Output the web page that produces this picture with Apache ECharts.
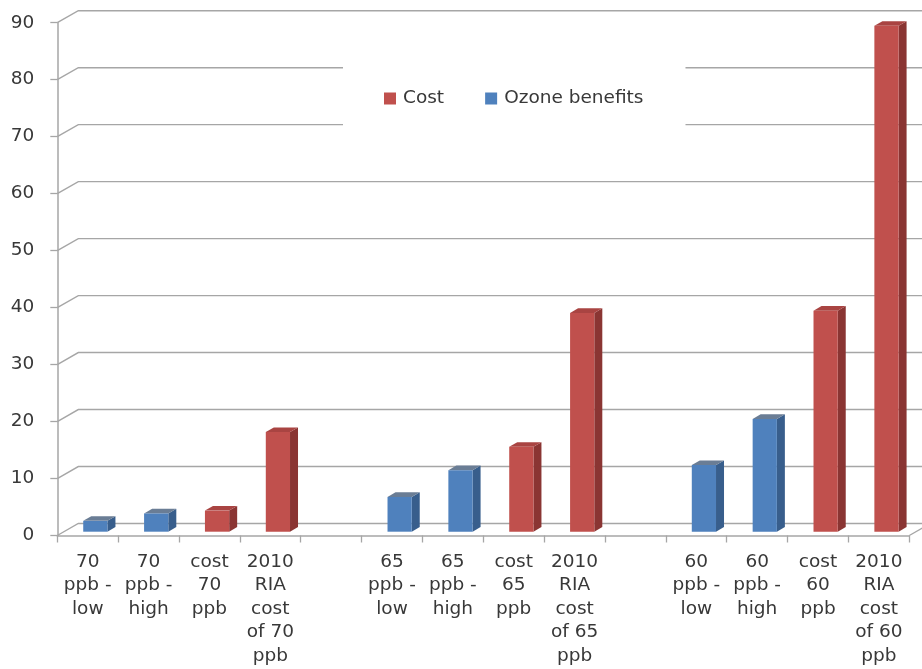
<!DOCTYPE html>
<html>
<head>
<meta charset="utf-8">
<script src="https://cdn.jsdelivr.net/npm/echarts@6/dist/echarts.min.js"></script>
<style>
  html, body { margin: 0; padding: 0; background: #fff; }
  #chart { width: 922px; height: 669px; }
</style>
</head>
<body>
<div id="chart"></div>
<script>
// Category labels (empty entries leave a gap between the three standards)
const categories = [
  '70\nppb -\nlow', '70\nppb -\nhigh', 'cost\n70\nppb', '2010\nRIA\ncost\nof 70\nppb',
  '',
  '65\nppb -\nlow', '65\nppb -\nhigh', 'cost\n65\nppb', '2010\nRIA\ncost\nof 65\nppb',
  '',
  '60\nppb -\nlow', '60\nppb -\nhigh', 'cost\n60\nppb', '2010\nRIA\ncost\nof 60\nppb'
];

// Values per category (null = no bar for that series)
const ozoneBenefits = [1.9, 3.2, null, null, null, 6.1, 10.8, null, null, null, 11.7, 19.8, null, null];
const cost          = [null, null, 3.7, 17.5, null, null, null, 14.9, 38.4, null, null, null, 38.8, 88.8];

// Value axis ticks
const yTicks = [0, 10, 20, 30, 40, 50, 60, 70, 80, 90];

const FONT = 'DejaVu Sans';
const FONT_SIZE = 18.5;
const TEXT = '#383838';
const LINE = '#a6a6a6';

// 3D look: depth of the back wall and of each bar
const WALL_DX = 21, WALL_DY = -12;
const BAR_DX = 8, BAR_DY = -4.6;
const BAR_LIFT = 3.8;

function toPairs(values) {
  const out = [];
  values.forEach((v, i) => { if (v != null) out.push([i, v]); });
  return out;
}

function barRenderer(front, side, top) {
  return function (params, api) {
    const idx = api.value(0);
    const val = api.value(1);
    const c = api.coord([idx, 0]);
    const catW = api.size([1, 0])[0];
    const h = api.size([0, val])[1];
    const w = catW * 0.398;
    const x = c[0] - catW * 0.074;
    const base = c[1] - BAR_LIFT;
    const yTop = base - h;
    return {
      type: 'group',
      children: [
        {
          type: 'polygon',
          shape: { points: [[x + w, base], [x + w + BAR_DX, base + BAR_DY], [x + w + BAR_DX, yTop + BAR_DY], [x + w, yTop]] },
          style: { fill: side }
        },
        {
          type: 'polygon',
          shape: { points: [[x, yTop], [x + BAR_DX, yTop + BAR_DY], [x + w + BAR_DX, yTop + BAR_DY], [x + w, yTop]] },
          style: { fill: top }
        },
        {
          type: 'rect',
          shape: { x: x, y: yTop, width: w, height: h },
          style: { fill: front }
        }
      ]
    };
  };
}

const chart = echarts.init(document.getElementById('chart'), null, { renderer: 'canvas' });

chart.setOption({
  animation: false,
  backgroundColor: '#ffffff',
  grid: { left: 57.3, right: 12.7, top: 22.7, bottom: 133.5, containLabel: false },
  legend: {
    data: [
      { name: 'Cost', icon: 'rect' },
      { name: 'Ozone benefits', icon: 'rect' }
    ],
    left: 343,
    top: 60,
    padding: [29, 42, 25, 41],
    itemWidth: 12,
    itemHeight: 12,
    itemGap: 41,
    backgroundColor: '#ffffff',
    textStyle: { fontFamily: FONT, fontSize: FONT_SIZE, color: TEXT, padding: [0, 0, 0, 2] }
  },
  xAxis: {
    type: 'category',
    data: categories,
    axisLine: { lineStyle: { color: LINE, width: 1.5 } },
    axisTick: { show: true, length: 7, lineStyle: { color: LINE, width: 1.3 } },
    axisLabel: {
      interval: 0,
      margin: 14.5,
      fontFamily: FONT,
      fontSize: FONT_SIZE,
      lineHeight: 23.5,
      color: TEXT
    },
    splitLine: { show: false }
  },
  yAxis: {
    type: 'value',
    min: 0,
    max: 90,
    interval: 10,
    axisLine: { show: true, lineStyle: { color: LINE, width: 1.5 } },
    axisTick: { show: true, length: 7, lineStyle: { color: LINE, width: 1.3 } },
    axisLabel: { margin: 23, fontFamily: FONT, fontSize: FONT_SIZE, color: TEXT },
    splitLine: { show: false }
  },
  series: [
    {
      // back-wall gridlines with the side-wall diagonal
      name: 'wall',
      type: 'custom',
      silent: true,
      z: 1,
      data: yTicks.map(v => [0, v]),
      renderItem: function (params, api) {
        const cs = params.coordSys;
        const y = api.coord([0, api.value(1)])[1];
        const x0 = cs.x;
        const children = [{
          type: 'polyline',
          shape: { points: [[x0, y], [x0 + WALL_DX, y + WALL_DY], [cs.x + cs.width + 40, y + WALL_DY]] },
          style: { stroke: LINE, lineWidth: 1.4, fill: null }
        }];
        if (api.value(1) === 0) {
          const xr = cs.x + cs.width;
          children.push({
            type: 'line',
            shape: { x1: xr, y1: y, x2: xr + WALL_DX, y2: y + WALL_DY },
            style: { stroke: LINE, lineWidth: 1.4 }
          });
        }
        return { type: 'group', children: children };
      }
    },
    {
      name: 'Ozone benefits',
      type: 'custom',
      z: 3,
      itemStyle: { color: '#4F81BD' },
      data: toPairs(ozoneBenefits),
      renderItem: barRenderer('#4F81BD', '#385E8C', '#6A7D95')
    },
    {
      name: 'Cost',
      type: 'custom',
      z: 3,
      itemStyle: { color: '#C0504D' },
      data: toPairs(cost),
      renderItem: barRenderer('#C0504D', '#8A3533', '#A94442')
    }
  ]
});
</script>
</body>
</html>
